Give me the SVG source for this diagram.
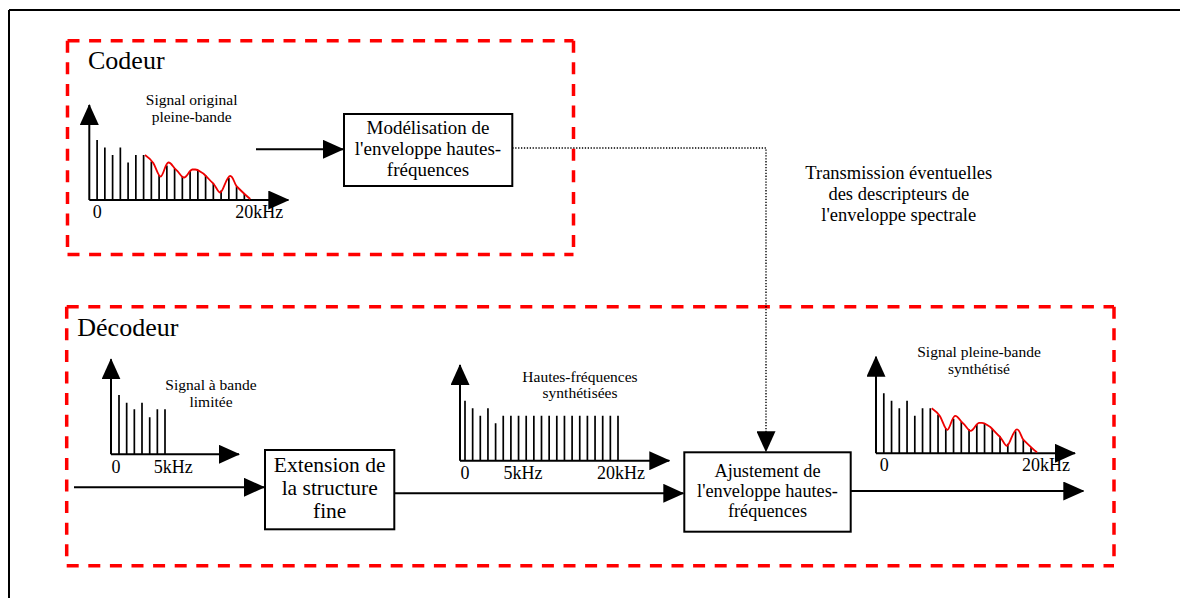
<svg xmlns="http://www.w3.org/2000/svg" xmlns:xlink="http://www.w3.org/1999/xlink" width="1180" height="598" viewBox="0 0 1180 598">
<style>
text{font-family:"Liberation Serif","Times New Roman",serif;fill:#000}
.cap{font-size:15.5px;text-anchor:middle}
.ax{font-size:18px;text-anchor:middle}
.big{font-size:26px}
.box{fill:#fff;stroke:#000;stroke-width:2}
.bt{font-size:19px;text-anchor:middle}
.axis{fill:none;stroke:#000;stroke-width:2;marker-end:url(#ah)}
.bars{fill:none;stroke:#000;stroke-width:1.7}
.env{fill:none;stroke:#e00;stroke-width:1.8;stroke-linejoin:round}
.red{fill:none;stroke:#f00;stroke-width:3.5;stroke-dasharray:12 9.6}
.conn{fill:none;stroke:#000;stroke-width:2}
.dot{fill:none;stroke:#000;stroke-width:1.4;stroke-dasharray:1.3 1.6}
</style>
<defs>
<marker id="ah" markerUnits="userSpaceOnUse" viewBox="0 0 21 19" markerWidth="21" markerHeight="19" refX="20" refY="9.5" orient="auto">
<path d="M0,0 L21,9.5 L0,19 Z" fill="#000"/>
</marker>
<g id="barsFull">
<path class="bars" d="M7.8,0V-60 M15.55,0V-52.5 M23.3,0V-45 M31.05,0V-52.5 M38.8,0V-37.5 M46.55,0V-45 M54.3,0V-45 M62.05,0V-38.5 M69.8,0V-25 M77.55,0V-34.5 M85.3,0V-31.5 M93.05,0V-24 M100.8,0V-29 M108.55,0V-30 M116.3,0V-24.4 M124.05,0V-16.7 M131.8,0V-9.5 M139.55,0V-22 M147.3,0V-13.5 M155.05,0V-6"/>
<path class="env" d="M55.7,-45 C60,-42 62,-40 64,-37 C67,-32 69,-23 71.5,-23.5 C74,-24 76,-37 79,-37.5 C82,-38 84,-32 87,-30 C90,-28 92,-22 95,-22.5 C98,-23 100,-30 103,-30.5 L106,-30.5 C109,-30.5 111,-28 114,-26.5 C118,-23 121,-19 124,-16.5 C127,-13 129,-7 131,-7.5 C134,-8 137,-24 141,-24 C144,-24 145,-16 147.5,-13.5 C152,-9 157,-4 161,-1"/>
</g>
</defs>
<rect width="1180" height="598" fill="#fff"/>
<g id="frame">
<path d="M9,10 H1180 M9,10 V598" fill="none" stroke="#000" stroke-width="2"/>
</g>
<g id="codeur">
<path class="red" d="M67.5,40.7 H573.5"/>
<path class="red" d="M573.5,40.7 V254.5"/>
<path class="red" d="M67.5,254.5 H573.5"/>
<path class="red" d="M67.5,40.7 V254.5"/>
<text class="big" x="88" y="69">Codeur</text>
</g>
<g id="decodeur">
<path class="red" d="M66.7,306.7 H1114"/>
<path class="red" d="M1114,306.7 V565.7"/>
<path class="red" d="M66.7,565.7 H1114"/>
<path class="red" d="M66.7,306.7 V565.7"/>
<text class="big" x="77.3" y="335.7">Décodeur</text>
</g>
<g id="spec-original" transform="translate(89.3,200)">
<path class="axis" d="M0,0 V-95"/>
<path class="axis" d="M0,0 H199"/>
<use xlink:href="#barsFull" href="#barsFull"/>
<text class="cap" x="102.4" y="-95">Signal original</text>
<text class="cap" x="102.4" y="-78.3">pleine-bande</text>
<text class="ax" x="8" y="18.3">0</text>
<text class="ax" x="170" y="18.3">20kHz</text>
</g>
<g id="modelisation">
<rect class="box" x="344" y="114" width="168.3" height="72"/>
<text class="bt" x="428" y="134.3">Modélisation de</text>
<text class="bt" x="428" y="155">l'enveloppe hautes-</text>
<text class="bt" x="428" y="175.5">fréquences</text>
</g>
<g id="transmission">
<text style="font-size:18.5px;text-anchor:middle" x="898.8" y="179.3">Transmission éventuelles</text>
<text style="font-size:18.5px;text-anchor:middle" x="898.8" y="200">des descripteurs de</text>
<text style="font-size:18.5px;text-anchor:middle" x="898.8" y="220.7">l'enveloppe spectrale</text>
</g>
<g id="spec-limitee" transform="translate(111,454.3)">
<path class="axis" d="M0,0 V-95"/>
<path class="axis" d="M0,0 H128"/>
<path class="bars" d="M8,0V-59.3 M15.67,0V-51.6 M23.34,0V-45 M31,0V-51.6 M38.7,0V-37 M46.35,0V-45 M54,0V-45"/>
<text class="cap" x="100" y="-64">Signal à bande</text>
<text class="cap" x="100" y="-47">limitée</text>
<text class="ax" x="5" y="19">0</text>
<text class="ax" x="62.3" y="19">5kHz</text>
</g>
<g id="extension">
<rect class="box" x="265" y="450" width="129.3" height="79.3"/>
<text style="font-size:21.5px;text-anchor:middle" x="329.7" y="471.7">Extension de</text>
<text style="font-size:21.5px;text-anchor:middle" x="329.7" y="495">la structure</text>
<text style="font-size:21.5px;text-anchor:middle" x="329.7" y="518.3">fine</text>
</g>
<g id="spec-hf" transform="translate(460,460.7)">
<path class="axis" d="M0,0 V-95.7"/>
<path class="axis" d="M0,0 H209.3"/>
<path class="bars" d="M5,0V-60 M12.65,0V-52.4 M20.3,0V-45 M27.95,0V-52.4 M35.6,0V-37.4 M43.25,0V-45 M50.9,0V-45 M58.55,0V-45 M66.2,0V-45 M73.85,0V-45 M81.5,0V-45 M89.15,0V-45 M96.8,0V-45 M104.45,0V-45 M112.1,0V-45 M119.75,0V-45 M127.4,0V-45 M135.05,0V-45 M142.7,0V-45 M150.35,0V-45 M158,0V-45"/>
<text class="cap" x="120" y="-79">Hautes-fréquences</text>
<text class="cap" x="120" y="-62.4">synthétisées</text>
<text class="ax" x="5" y="18.6">0</text>
<text class="ax" x="63" y="18.6">5kHz</text>
<text class="ax" x="161" y="18.6">20kHz</text>
</g>
<g id="ajustement">
<rect class="box" x="684.3" y="452.3" width="166.4" height="79.4"/>
<text style="font-size:18.3px;text-anchor:middle" x="767.5" y="476.7">Ajustement de</text>
<text style="font-size:18.3px;text-anchor:middle" x="767.5" y="496.7">l'enveloppe hautes-</text>
<text style="font-size:18.3px;text-anchor:middle" x="767.5" y="516.7">fréquences</text>
</g>
<g id="spec-synth" transform="translate(876,453.3)">
<path class="axis" d="M0,0 V-96.6"/>
<path class="axis" d="M0,0 H199"/>
<use xlink:href="#barsFull" href="#barsFull"/>
<text class="cap" x="103" y="-96">Signal pleine-bande</text>
<text class="cap" x="103" y="-79.3">synthétisé</text>
<text class="ax" x="8.3" y="17.4">0</text>
<text class="ax" x="170" y="17.4">20kHz</text>
</g>
<g id="connectors">
<path class="conn" d="M256,149.3 H343" marker-end="url(#ah)"/>
<path class="dot" d="M512.3,148 H766 V433"/>
<path class="conn" d="M766,432 V451.3" marker-end="url(#ah)" style="stroke:none"/>
<path class="conn" d="M74,487.3 H264" marker-end="url(#ah)"/>
<path class="conn" d="M394.3,493.3 H683.3" marker-end="url(#ah)"/>
<path class="conn" d="M850.7,491 H1083.3" marker-end="url(#ah)"/>
</g>
</svg>
